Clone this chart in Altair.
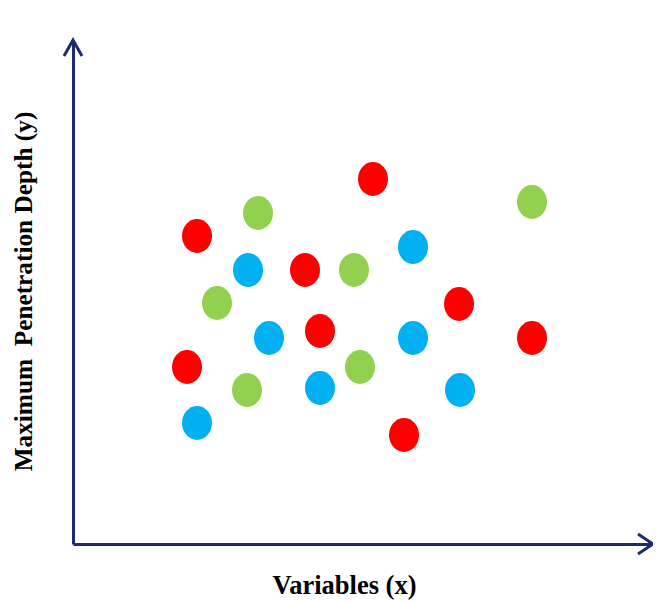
import altair as alt
import pandas as pd

# Point positions (data units, origin at the axes' corner)
red_x = [124, 300, 232, 386, 247, 459, 114, 331]
red_y = [308, 365, 274, 240, 213, 206, 177, 109]
green_x = [185, 459, 281, 144, 287, 174]
green_y = [331, 342, 274, 241, 177, 154]
blue_x = [175, 340, 196, 340, 247, 387, 124]
blue_y = [274, 297, 206, 206, 156, 154, 121]

groups = ["Red", "Green", "Blue"]
colors = ["#FF0000", "#92D050", "#00B0F0"]

X_MAX = 580
Y_MAX = 504

rows = []
for g, xs_, ys_ in zip(groups, [red_x, green_x, blue_x], [red_y, green_y, blue_y]):
    for x, y in zip(xs_, ys_):
        rows.append({"x": x, "y": y, "group": g})
df = pd.DataFrame(rows)

arrows = pd.DataFrame({"x": [0, X_MAX], "y": [Y_MAX, 0], "dir": ["up", "right"]})

ellipse = "M0,-1.13A1,1.13,0,1,1,0,1.13A1,1.13,0,1,1,0,-1.13Z"
up_path = "M-0.9,1.6L0,0L0.9,1.6"
right_path = "M-1.5,-1L0,0L-1.5,1"

axis_color = "#1F2B6E"

xscale = alt.Scale(domain=[0, X_MAX], nice=False, zero=False)
yscale = alt.Scale(domain=[0, Y_MAX], nice=False, zero=False)

common = dict(labels=False, ticks=False, grid=False, domainColor=axis_color,
              domainWidth=3, titleFont="Liberation Serif",
              titleFontWeight="bold", titleColor="#000000",
              titleBaseline="middle", titleAlign="center")

x_axis = alt.Axis(title="Variables (x)", titleX=271, titleY=41, titleFontSize=26.5, **common)
y_axis = alt.Axis(title="Maximum\u00a0 Penetration Depth (y)", titleX=-50, titleY=251,
                  titleAngle=270, titleFontSize=25.3, **common)

points = alt.Chart(df).mark_point(shape=ellipse, filled=True, size=900,
                                  opacity=1, strokeWidth=0).encode(
    x=alt.X("x:Q", scale=xscale, axis=x_axis),
    y=alt.Y("y:Q", scale=yscale, axis=y_axis),
    color=alt.Color("group:N", scale=alt.Scale(domain=groups, range=colors), legend=None),
)

heads = alt.Chart(arrows).mark_point(filled=False, strokeWidth=3, size=400, opacity=1,
                                     color=axis_color, strokeJoin="miter").encode(
    x=alt.X("x:Q", scale=xscale, axis=x_axis),
    y=alt.Y("y:Q", scale=yscale, axis=y_axis),
    shape=alt.Shape("dir:N", scale=alt.Scale(domain=["up", "right"], range=[up_path, right_path]),
                    legend=None),
)

chart = alt.layer(points, heads).properties(
    width=X_MAX, height=Y_MAX,
    autosize=alt.AutoSizeParams(type="none"),
    padding={"left": 65, "top": 32, "right": 0, "bottom": 59},
    view=alt.ViewBackground(stroke="transparent", strokeWidth=0, strokeOpacity=0),
).configure_view(strokeWidth=0, stroke="transparent", strokeOpacity=0).configure(background="#FFFFFF")

chart.save("out.html", embed_options={"renderer": "svg", "actions": False})
